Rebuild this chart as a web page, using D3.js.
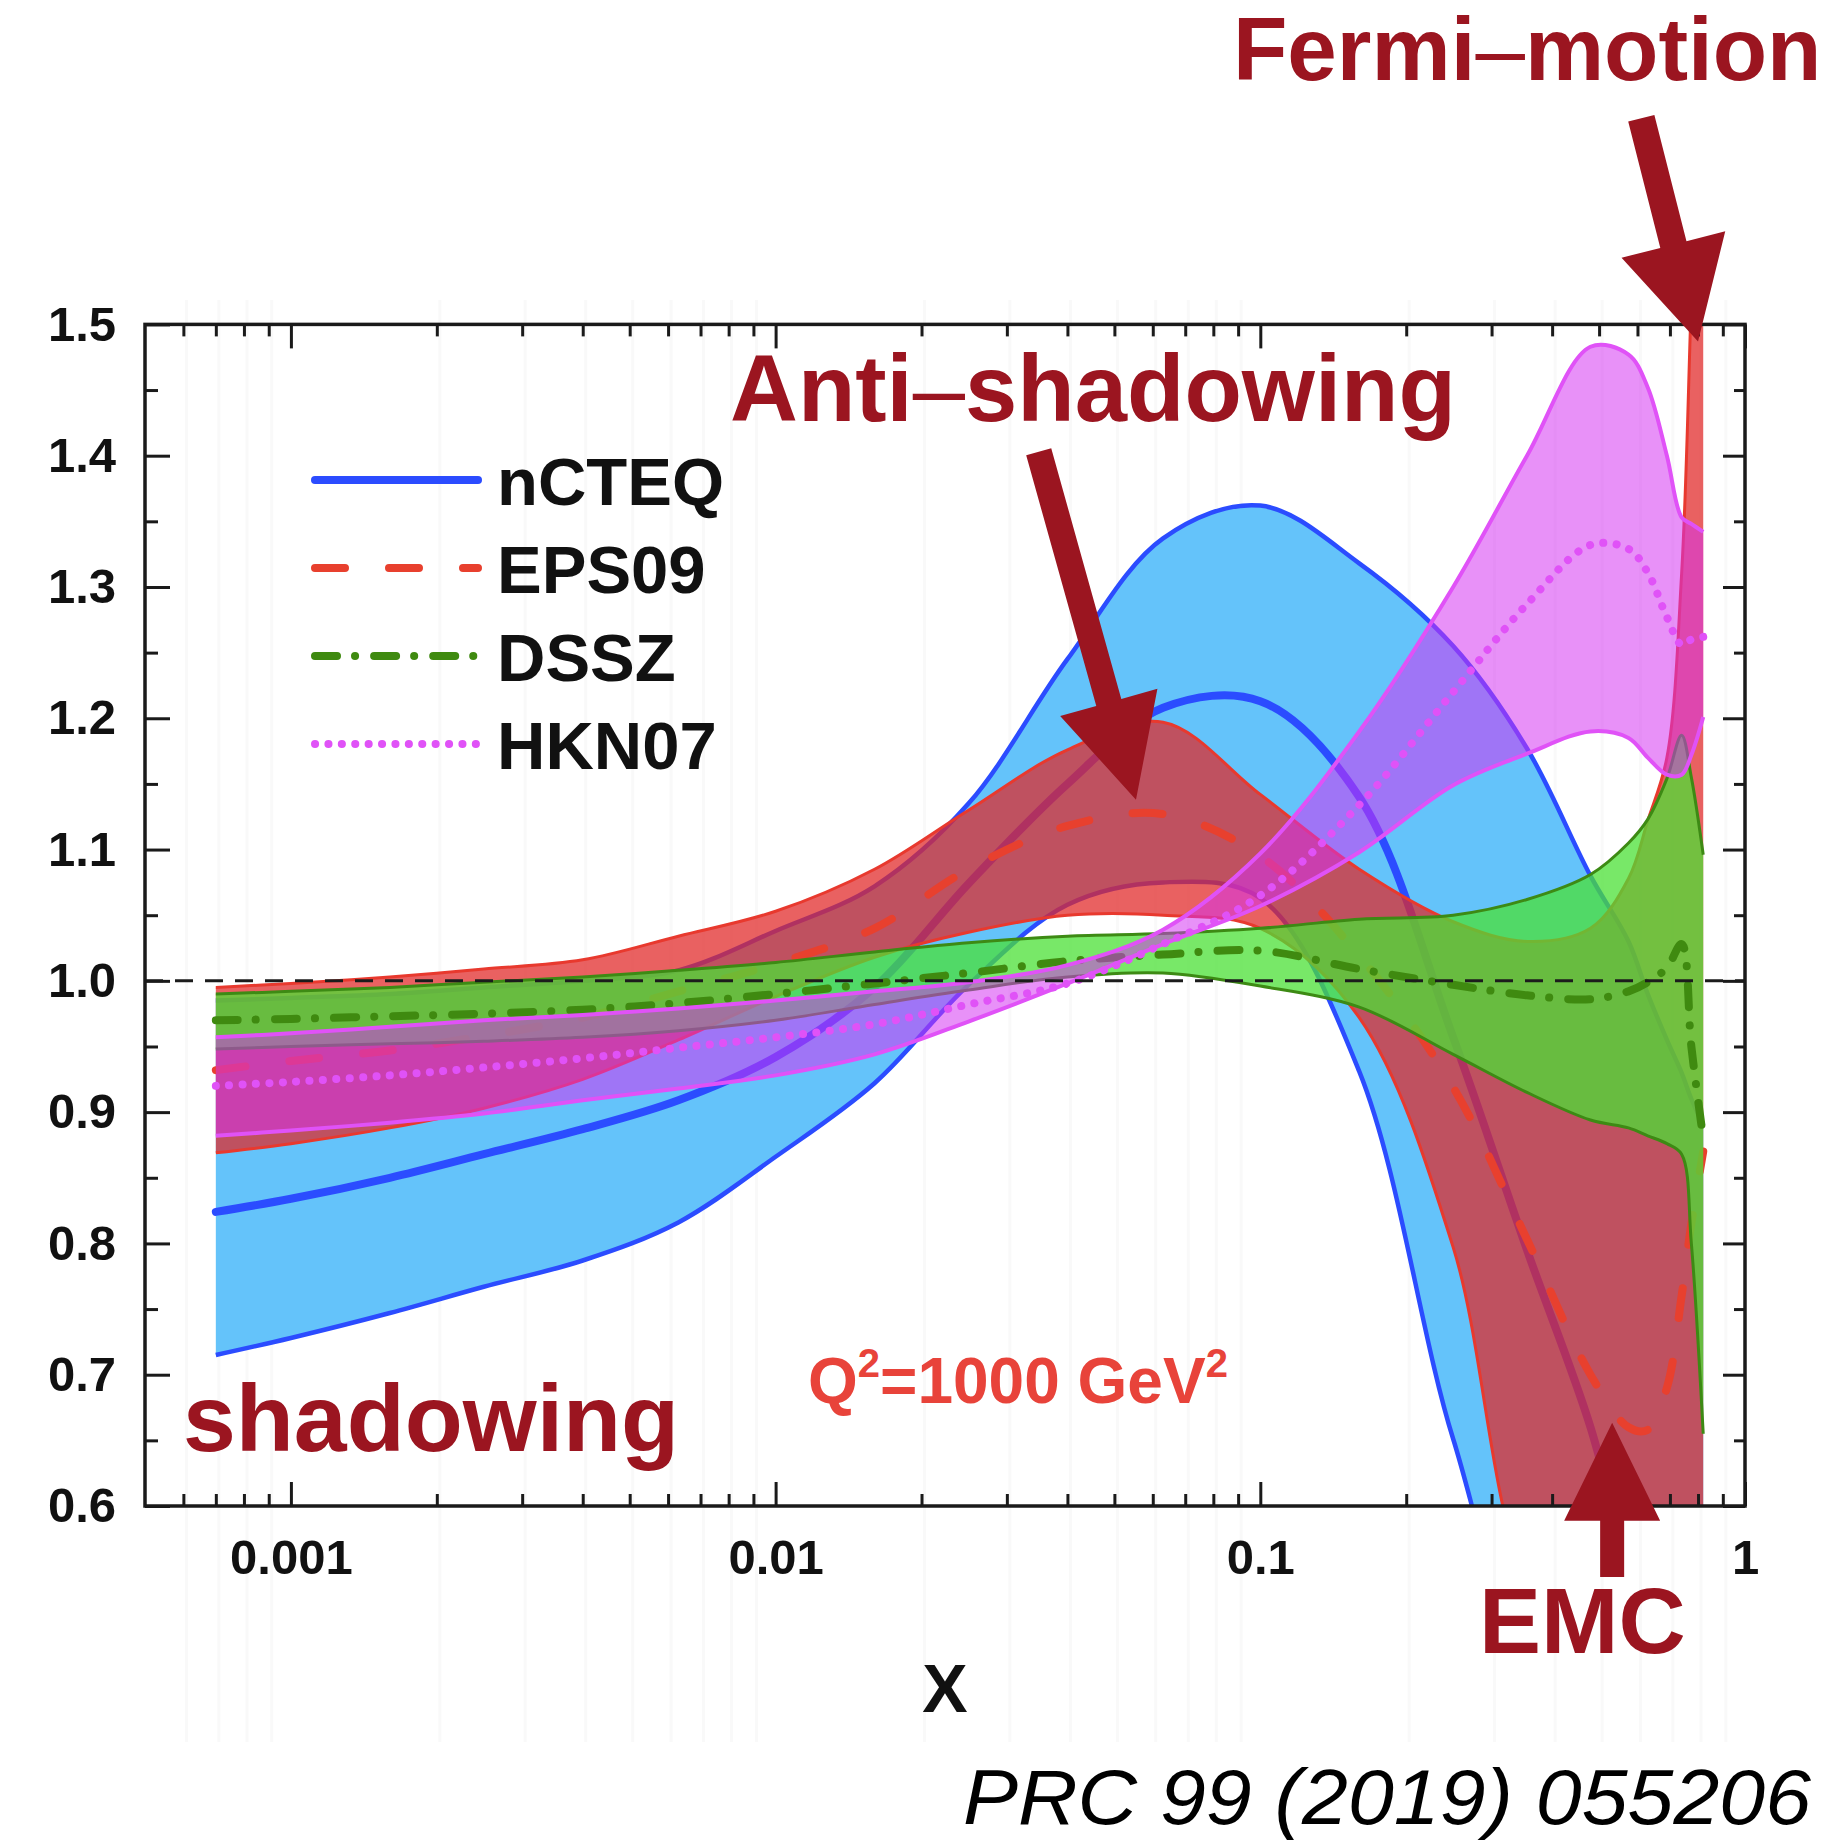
<!DOCTYPE html>
<html>
<head>
<meta charset="utf-8">
<script src="https://cdnjs.cloudflare.com/ajax/libs/d3/7.8.5/d3.min.js"></script>
<style>
    html, body { margin: 0; padding: 0; background: #fff; }
    svg { display: block; font-family: 'Liberation Sans', Arial, Helvetica, sans-serif; }
</style>
</head>
<body>
<svg id="chart" width="1845" height="1845" xmlns="http://www.w3.org/2000/svg"></svg>
<script>
    // x values shared by every band
    const xGrid = [0.0007, 0.001, 0.0016, 0.0025, 0.004, 0.0063, 0.01, 0.016, 0.025, 0.04, 0.063,
                   0.1, 0.16, 0.25, 0.355, 0.48, 0.575, 0.63, 0.69, 0.74, 0.775, 0.82];

    const nCteqLow  = [0.715, 0.728, 0.747, 0.767, 0.787, 0.816, 0.866, 0.922, 0.997, 1.058, 1.075,
                       1.063, 0.931, 0.651, 0.50, 0.50, 0.50, 0.50, 0.50, 0.50, 0.50, 0.50];
    const nCteqMid  = [0.824, 0.834, 0.850, 0.868, 0.887, 0.909, 0.942, 0.995, 1.074, 1.150, 1.208,
                       1.213, 1.140, 0.957, 0.795, 0.660, 0.550, 0.50, 0.50, 0.50, 0.50, 0.50];
    const nCteqHigh = [0.985, 0.987, 0.990, 0.995, 1.000, 1.008, 1.038, 1.072, 1.135, 1.245, 1.337,
                       1.362, 1.318, 1.255, 1.177, 1.080, 1.030, 0.990, 0.955, 0.930, 0.910, 0.890];

    const eps09Low  = [0.869, 0.876, 0.888, 0.903, 0.925, 0.955, 0.988, 1.018, 1.037, 1.050, 1.050,
                       1.040, 0.972, 0.797, 0.545, 0.50, 0.50, 0.50, 0.50, 0.50, 0.50, 0.50];
    const eps09Mid  = [0.932, 0.939, 0.947, 0.958, 0.972, 0.992, 1.013, 1.040, 1.085, 1.118, 1.127,
                       1.095, 1.019, 0.919, 0.803, 0.700, 0.660, 0.658, 0.690, 0.760, 0.815, 0.870];
    const eps09High = [0.995, 0.998, 1.003, 1.009, 1.016, 1.034, 1.053, 1.085, 1.130, 1.176, 1.197,
                       1.142, 1.085, 1.045, 1.030, 1.040, 1.078, 1.122, 1.170, 1.310, 1.520, 1.800];

    const dsszLow   = [0.948, 0.950, 0.952, 0.954, 0.957, 0.962, 0.970, 0.982, 0.993, 1.003, 1.006,
                       0.996, 0.980, 0.944, 0.915, 0.894, 0.888, 0.882, 0.876, 0.868, 0.800, 0.655];
    const dsszMid   = [0.970, 0.971, 0.973, 0.975, 0.978, 0.983, 0.990, 0.998, 1.006, 1.015, 1.020,
                       1.023, 1.009, 0.997, 0.989, 0.986, 0.992, 0.999, 1.010, 1.028, 0.950, 0.880];
    const dsszHigh  = [0.990, 0.992, 0.995, 0.999, 1.003, 1.008, 1.014, 1.022, 1.029, 1.034, 1.036,
                       1.040, 1.047, 1.050, 1.062, 1.081, 1.105, 1.123, 1.154, 1.187, 1.155, 1.096];

    const hknLow    = [0.882, 0.886, 0.892, 0.899, 0.909, 0.918, 0.928, 0.944, 0.969, 0.998, 1.028,
                       1.057, 1.098, 1.149, 1.173, 1.190, 1.185, 1.170, 1.157, 1.157, 1.172, 1.201];
    const hknMid    = [0.920, 0.923, 0.928, 0.934, 0.941, 0.949, 0.957, 0.967, 0.982, 0.998, 1.028,
                       1.065, 1.134, 1.220, 1.287, 1.332, 1.329, 1.311, 1.277, 1.256, 1.260, 1.262];
    const hknHigh   = [0.957, 0.960, 0.965, 0.970, 0.974, 0.979, 0.985, 0.992, 0.999, 1.012, 1.039,
                       1.097, 1.190, 1.300, 1.400, 1.483, 1.477, 1.452, 1.400, 1.353, 1.348, 1.342];

    const seriesNames = ["nCTEQ", "EPS09", "DSSZ", "HKN07"];

    const xTickValues = [0.001, 0.01, 0.1, 1];
    const xTickLabels = ["0.001", "0.01", "0.1", "1"];
    const yTickValues = [0.6, 0.7, 0.8, 0.9, 1.0, 1.1, 1.2, 1.3, 1.4, 1.5];
    const yTickLabels = ["0.6", "0.7", "0.8", "0.9", "1.0", "1.1", "1.2", "1.3", "1.4", "1.5"];

    const xTitle = "X";
    const scaleNote = ["Q", "2", "=1000 GeV", "2"];
    const reference = "PRC 99 (2019) 055206";
    const labelFermi = ["Fermi", "\u2013", "motion"];
    const labelAnti = ["Anti", "\u2013", "shadowing"];
    const labelShadow = "shadowing";
    const labelEmc = "EMC";

    // arrows: tail and tip in data units (x, ratio)
    const arrowFermi = [[0.611, 1.657], [0.80, 1.487]];
    const arrowAnti = [[0.0349, 1.403], [0.0554, 1.138]];
    const arrowEmc = [[0.532, 0.546], [0.532, 0.6635]];

    (function () {
        'use strict';

        const plot = { left: 145, right: 1745, top: 324.4, bottom: 1506 };
        const annotRed = "#9b1520";
        const curve = d3.curveCatmullRom.alpha(0.5);

        const svg = d3.select("#chart");

        const x = d3.scaleLog().domain([5e-4, 1]).range([plot.left, plot.right]);
        const y = d3.scaleLinear().domain([0.6, 1.5]).range([plot.bottom, plot.top]);

        svg.append("rect").attr("width", 1845).attr("height", 1845).attr("fill", "#fff");

        svg.append("defs").append("clipPath").attr("id", "plotClip")
            .append("rect")
            .attr("x", plot.left).attr("y", plot.top)
            .attr("width", plot.right - plot.left).attr("height", plot.bottom - plot.top);

        // minor decade positions, used for ticks and the faint scan stripes
        const xMinor = [];
        for (let e = -4; e < 0; e++) {
            for (let m = 2; m <= 9; m++) {
                const v = m * Math.pow(10, e);
                if (v > 5e-4 && v < 1) xMinor.push(v);
            }
        }
        const yMinor = d3.range(0.65, 1.5, 0.1);

        svg.append("g").selectAll("line").data(xMinor).enter().append("line")
            .attr("x1", d => x(d) + 3).attr("x2", d => x(d) + 3)
            .attr("y1", 300).attr("y2", 1742)
            .attr("stroke", "#f9f9f9").attr("stroke-width", 3);

        const series = [
            { name: seriesNames[0], lo: nCteqLow, mid: nCteqMid, hi: nCteqHigh,
              fill: "#64c3fa", opacity: 1, edge: "#2b4cff", edgeWidth: 4.5,
              line: "#2b4cff", dash: null },
            { name: seriesNames[1], lo: eps09Low, mid: eps09Mid, hi: eps09High,
              fill: "#e12727", opacity: 0.735, edge: "#e8392e", edgeWidth: 3,
              line: "#e8402e", dash: "30,44" },
            { name: seriesNames[2], lo: dsszLow, mid: dsszMid, hi: dsszHigh,
              fill: "#4be036", opacity: 0.75, edge: "#3d8a14", edgeWidth: 3,
              line: "#3f8a10", dash: "22,18,0.1,19" },
            { name: seriesNames[3], lo: hknLow, mid: hknMid, hi: hknHigh,
              fill: "#d430f2", opacity: 0.535, edge: "#e052f7", edgeWidth: 4,
              line: "#e052f7", dash: "0.1,13.3" }
        ];

        const bands = svg.append("g").attr("clip-path", "url(#plotClip)");

        const lineFor = key => d3.line()
            .x(d => x(d.x))
            .y(d => y(d[key]))
            .curve(curve);

        series.forEach(s => {
            const pts = xGrid.map((xv, i) => ({ x: xv, lo: s.lo[i], mid: s.mid[i], hi: s.hi[i] }));
            const g = bands.append("g").attr("class", "band");

            g.append("path").datum(pts)
                .attr("d", d3.area().x(d => x(d.x)).y0(d => y(d.lo)).y1(d => y(d.hi)).curve(curve))
                .attr("fill", s.fill)
                .attr("fill-opacity", s.opacity);

            ["lo", "hi"].forEach(k => {
                g.append("path").datum(pts)
                    .attr("d", lineFor(k))
                    .attr("fill", "none")
                    .attr("stroke", s.edge)
                    .attr("stroke-width", s.edgeWidth)
                    .attr("stroke-linejoin", "round");
            });

            g.append("path").datum(pts)
                .attr("d", lineFor("mid"))
                .attr("fill", "none")
                .attr("stroke", s.line)
                .attr("stroke-width", 8)
                .attr("stroke-linecap", "round")
                .attr("stroke-dasharray", s.dash);
        });

        // reference line at unity
        bands.append("line")
            .attr("x1", plot.left).attr("x2", plot.right)
            .attr("y1", y(1)).attr("y2", y(1))
            .attr("stroke", "#1c1c1c").attr("stroke-width", 3)
            .attr("stroke-dasharray", "18,12");

        // axes, ticks pointing inward on all four sides
        const styleAxis = g => {
            g.select(".domain").remove();
            g.selectAll(".tick line").attr("stroke", "#1a1a1a").attr("stroke-width", 3);
            g.selectAll("text")
                .attr("fill", "#111")
                .attr("font-family", "'Liberation Sans', Arial, sans-serif")
                .attr("font-weight", "bold")
                .attr("font-size", 49);
        };

        svg.append("g").attr("transform", `translate(0,${plot.bottom})`)
            .call(d3.axisBottom(x).tickValues(xTickValues)
                .tickFormat((d, i) => xTickLabels[i]).tickSize(-24).tickPadding(33))
            .call(styleAxis);
        svg.append("g").attr("transform", `translate(0,${plot.bottom})`)
            .call(d3.axisBottom(x).tickValues(xMinor).tickFormat("").tickSize(-12))
            .call(styleAxis);
        svg.append("g").attr("transform", `translate(0,${plot.top})`)
            .call(d3.axisTop(x).tickValues(xTickValues).tickFormat("").tickSize(-24))
            .call(styleAxis);
        svg.append("g").attr("transform", `translate(0,${plot.top})`)
            .call(d3.axisTop(x).tickValues(xMinor).tickFormat("").tickSize(-12))
            .call(styleAxis);

        svg.append("g").attr("transform", `translate(${plot.left},0)`)
            .call(d3.axisLeft(y).tickValues(yTickValues)
                .tickFormat((d, i) => yTickLabels[i]).tickSize(-25).tickPadding(29))
            .call(styleAxis);
        svg.append("g").attr("transform", `translate(${plot.left},0)`)
            .call(d3.axisLeft(y).tickValues(yMinor).tickFormat("").tickSize(-13))
            .call(styleAxis);
        svg.append("g").attr("transform", `translate(${plot.right},0)`)
            .call(d3.axisRight(y).tickValues(yTickValues).tickFormat("").tickSize(-22))
            .call(styleAxis);
        svg.append("g").attr("transform", `translate(${plot.right},0)`)
            .call(d3.axisRight(y).tickValues(yMinor).tickFormat("").tickSize(-11))
            .call(styleAxis);

        svg.append("rect")
            .attr("x", plot.left).attr("y", plot.top)
            .attr("width", plot.right - plot.left).attr("height", plot.bottom - plot.top)
            .attr("fill", "none").attr("stroke", "#1a1a1a").attr("stroke-width", 3.5);

        svg.append("text")
            .attr("x", 945).attr("y", 1712)
            .attr("text-anchor", "middle")
            .attr("font-size", 68).attr("font-weight", "bold").attr("fill", "#111")
            .text(xTitle);

        // legend
        const legend = svg.append("g");
        const legendRows = [480, 568, 656, 744];
        series.forEach((s, i) => {
            legend.append("line")
                .attr("x1", 315).attr("x2", 478)
                .attr("y1", legendRows[i]).attr("y2", legendRows[i])
                .attr("stroke", s.line).attr("stroke-width", 8)
                .attr("stroke-linecap", "round")
                .attr("stroke-dasharray", s.dash);
            legend.append("text")
                .attr("x", 497).attr("y", legendRows[i] + 25)
                .attr("font-size", 67).attr("font-weight", "bold").attr("fill", "#111")
                .text(s.name);
        });

        // Q^2 note
        const q = svg.append("text")
            .attr("x", 808).attr("y", 1403)
            .attr("font-size", 64).attr("font-weight", "bold").attr("fill", "#e8433a");
        q.append("tspan").text(scaleNote[0]);
        q.append("tspan").attr("font-size", 40).attr("dy", -26).text(scaleNote[1]);
        q.append("tspan").attr("dy", 26).text(scaleNote[2]);
        q.append("tspan").attr("font-size", 40).attr("dy", -26).text(scaleNote[3]);

        svg.append("text")
            .attr("x", 963).attr("y", 1824)
            .attr("font-size", 78).attr("font-style", "italic").attr("fill", "#000")
            .attr("textLength", 848).attr("lengthAdjust", "spacingAndGlyphs")
            .text(reference);

        // annotation labels
        const dashedLabel = (parts, px, py, size) => {
            const t = svg.append("text")
                .attr("x", px).attr("y", py)
                .attr("font-size", size).attr("font-weight", "bold").attr("fill", annotRed);
            t.append("tspan").text(parts[0]);
            t.append("tspan").attr("font-weight", "normal").text(parts[1]);
            t.append("tspan").text(parts[2]);
        };
        dashedLabel(labelFermi, 1233, 80, 89);
        dashedLabel(labelAnti, 730, 421, 94);

        svg.append("text")
            .attr("x", 183).attr("y", 1451)
            .attr("font-size", 95).attr("font-weight", "bold").attr("fill", annotRed)
            .text(labelShadow);
        svg.append("text")
            .attr("x", 1479).attr("y", 1653)
            .attr("font-size", 93).attr("font-weight", "bold").attr("fill", annotRed)
            .text(labelEmc);

        const drawArrow = (a, shaft, headW, headL) => {
            const x1 = x(a[0][0]), y1 = y(a[0][1]);
            const x2 = x(a[1][0]), y2 = y(a[1][1]);
            const len = Math.hypot(x2 - x1, y2 - y1);
            const ux = (x2 - x1) / len, uy = (y2 - y1) / len;
            const nx = -uy, ny = ux;
            const bx = x2 - ux * headL, by = y2 - uy * headL;
            const pts = [
                [x1 + nx * shaft / 2, y1 + ny * shaft / 2],
                [bx + nx * shaft / 2, by + ny * shaft / 2],
                [bx + nx * headW / 2, by + ny * headW / 2],
                [x2, y2],
                [bx - nx * headW / 2, by - ny * headW / 2],
                [bx - nx * shaft / 2, by - ny * shaft / 2],
                [x1 - nx * shaft / 2, y1 - ny * shaft / 2]
            ];
            svg.append("polygon")
                .attr("points", pts.map(p => p.join(",")).join(" "))
                .attr("fill", annotRed);
        };
        drawArrow(arrowFermi, 27, 107, 100);
        drawArrow(arrowAnti, 26, 101, 101);
        drawArrow(arrowEmc, 24, 96, 98);
    })();
</script>
</body>
</html>
